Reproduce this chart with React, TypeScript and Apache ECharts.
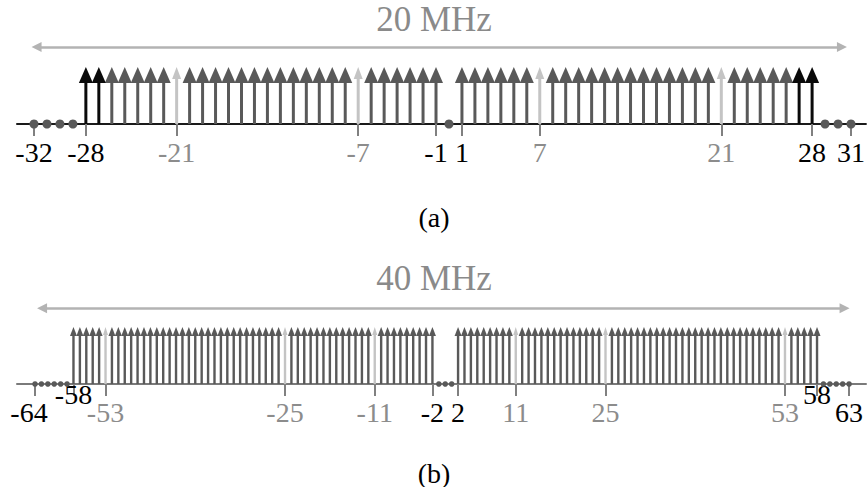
import React, { useEffect, useRef } from 'react';
import * as echarts from 'echarts';

// ---------- data: panel (a) 20 MHz ----------
const NULL_A = [-32, -31, -30, -29, 0, 29, 30, 31];
const ACTIVE_A = [
  -28, -27, -26, -25, -24, -23, -22, -21, -20, -19, -18, -17, -16, -15,
  -14, -13, -12, -11, -10, -9, -8, -7, -6, -5, -4, -3, -2, -1,
  1, 2, 3, 4, 5, 6, 7, 8, 9, 10, 11, 12, 13, 14,
  15, 16, 17, 18, 19, 20, 21, 22, 23, 24, 25, 26, 27, 28,
];
const PILOTS_A = [-21, -7, 7, 21];
const EDGE_A = [-28, -27, 27, 28];
const TICKS_A = [-32, -28, -21, -7, -1, 1, 7, 21, 28, 31];
const GRAY_TICKS_A = [-21, -7, 7, 21];
const TITLE_A = '20 MHz';
const SPAN_A = [-31.8, 30.3];
const CAPTION_A = '(a)';

// ---------- data: panel (b) 40 MHz ----------
const NULL_B = [-64, -63, -62, -61, -60, -59, -1, 0, 1, 59, 60, 61, 62, 63];
const ACTIVE_B = [
  -58, -57, -56, -55, -54, -53, -52, -51, -50, -49, -48, -47, -46, -45, -44,
  -43, -42, -41, -40, -39, -38, -37, -36, -35, -34, -33, -32, -31, -30, -29,
  -28, -27, -26, -25, -24, -23, -22, -21, -20, -19, -18, -17, -16, -15, -14,
  -13, -12, -11, -10, -9, -8, -7, -6, -5, -4, -3, -2,
  2, 3, 4, 5, 6, 7, 8, 9, 10, 11, 12, 13, 14, 15, 16,
  17, 18, 19, 20, 21, 22, 23, 24, 25, 26, 27, 28, 29, 30, 31,
  32, 33, 34, 35, 36, 37, 38, 39, 40, 41, 42, 43, 44, 45, 46,
  47, 48, 49, 50, 51, 52, 53, 54, 55, 56, 57, 58,
];
const PILOTS_B = [-53, -25, -11, 11, 25, 53];
const EDGE_B: number[] = [];
const TICKS_B = [-64, -58, -53, -25, -11, -2, 2, 11, 25, 53, 58, 63];
const GRAY_TICKS_B = [-53, -25, -11, 11, 25, 53];
const RAISED_TICKS_B = [-58, 58];
const TITLE_B = '40 MHz';
const SPAN_B = [-62.9, 62.3];
const CAPTION_B = '(b)';

const AMPLITUDE = 1;
const SPAN_LEVEL_A = 1.35;
const SPAN_LEVEL_B = 1.33;

const FONT = '"Liberation Serif", "DejaVu Serif", serif';
const DARK = '#595959';
const BLACK = '#0a0a0a';
const LIGHT = '#c4c4c4';
const LABEL_GRAY = '#8c8c8c';

type ArrowStyle = { stem: number; headW: number; headH: number; color: string };

function arrowData(active: number[], pilots: number[], edges: number[]) {
  const dark = active.filter((x) => !pilots.includes(x) && !edges.includes(x)).map((x) => [x, AMPLITUDE, 0]);
  const black = active.filter((x) => edges.includes(x)).map((x) => [x, AMPLITUDE, 1]);
  const pil = active.filter((x) => pilots.includes(x)).map((x) => [x, AMPLITUDE, 2]);
  return [...dark, ...black, ...pil];
}

function arrowSeries(gridIdx: number, data: number[][], styles: ArrowStyle[], spanX: number[], spanY: number) {
  return {
    type: 'custom',
    xAxisIndex: gridIdx,
    yAxisIndex: gridIdx,
    data,
    silent: true,
    renderItem: (params: any, api: any) => {
      const x = api.value(0);
      const y = api.value(1);
      const kind = api.value(2);
      const st = styles[kind];
      const base = api.coord([x, 0]);
      const tip = api.coord([x, y]);
      const headBase = tip[1] + st.headH;
      return {
        type: 'group',
        children: [
          {
            type: 'rect',
            shape: { x: base[0] - st.stem / 2, y: headBase - 1, width: st.stem, height: base[1] - headBase + 1 },
            style: { fill: st.color },
          },
          {
            type: 'polygon',
            shape: {
              points: [
                [tip[0], tip[1]],
                [tip[0] - st.headW / 2, headBase],
                [tip[0] + st.headW / 2, headBase],
              ],
            },
            style: { fill: st.color },
          },
        ],
      };
    },
    markLine: {
      silent: true,
      animation: false,
      symbol: ['triangle', 'triangle'],
      symbolSize: [10, 10],
      label: { show: false },
      lineStyle: { color: '#b3b3b3', width: 2.5, type: 'solid' },
      emphasis: { disabled: true },
      data: [[{ coord: [spanX[0], spanY] }, { coord: [spanX[1], spanY] }]],
    },
  };
}

function labelFormatter(grays: number[], shifted: number[] = []) {
  return (v: any) => {
    const n = Number(v);
    const key = grays.includes(n) ? 'g' : shifted.includes(n) ? 'kl' : 'k';
    return `{${key}|${n}}`;
  };
}

const RICH = (size: number) => ({
  k: { color: '#000', fontFamily: FONT, fontSize: size },
  g: { color: LABEL_GRAY, fontFamily: FONT, fontSize: size },
  kl: { color: '#000', fontFamily: FONT, fontSize: size, padding: [0, 12, 0, 0] },
});

export default function App() {
  const ref = useRef<HTMLDivElement>(null);
  useEffect(() => {
    if (!ref.current) return;
    const chart = echarts.init(ref.current, undefined, { renderer: 'svg' });
    const stylesA: ArrowStyle[] = [
      { stem: 3, headW: 14, headH: 16, color: DARK },
      { stem: 3, headW: 14, headH: 16, color: BLACK },
      { stem: 3, headW: 9, headH: 12, color: LIGHT },
    ];
    const stylesB: ArrowStyle[] = [
      { stem: 2.4, headW: 7, headH: 9, color: DARK },
      { stem: 2.4, headW: 7, headH: 9, color: BLACK },
      { stem: 2.4, headW: 5, headH: 8, color: LIGHT },
    ];
    const titleStyle = { color: '#8a8a8a', fontFamily: FONT, fontSize: 35, fontWeight: 'normal' as const };
    const capStyle = { color: '#000', fontFamily: FONT, fontSize: 28, fontWeight: 'normal' as const };
    chart.setOption({
      animation: false,
      backgroundColor: '#fff',
      title: [
        { text: TITLE_A, left: 'center', top: 2, padding: 0, textStyle: titleStyle },
        { text: CAPTION_A, left: 'center', top: 203, padding: 0, textStyle: capStyle },
        { text: TITLE_B, left: 'center', top: 261, padding: 0, textStyle: titleStyle },
        { text: CAPTION_B, left: 'center', top: 459, padding: 0, textStyle: capStyle },
      ],
      grid: [
        { left: 17, right: 2, top: 38.5, bottom: 363 },
        { left: 17, right: 2, top: 298.5, bottom: 103 },
      ],
      xAxis: [
        {
          type: 'value', gridIndex: 0, min: -33.31, max: 32.15,
          splitLine: { show: false },
          axisLine: { show: true, onZero: false, lineStyle: { color: '#1a1a1a', width: 2 } },
          axisTick: { show: true, customValues: TICKS_A, length: 12, lineStyle: { color: '#808080', width: 2 } },
          axisLabel: {
            show: true, customValues: TICKS_A, margin: 14,
            fontFamily: FONT, fontSize: 28,
            formatter: labelFormatter(GRAY_TICKS_A), rich: RICH(28),
          },
        },
        {
          type: 'value', gridIndex: 1, min: -66.81, max: 65.64,
          splitLine: { show: false },
          axisLine: { show: true, onZero: false, lineStyle: { color: '#7a7a7a', width: 2 } },
          axisTick: { show: true, customValues: TICKS_B, length: 12, lineStyle: { color: '#808080', width: 2 } },
          axisLabel: {
            show: true, customValues: TICKS_B.filter((t) => !RAISED_TICKS_B.includes(t)), margin: 14,
            fontFamily: FONT, fontSize: 28,
            formatter: labelFormatter(GRAY_TICKS_B, [-64]), rich: RICH(28),
          },
        },
        {
          type: 'value', gridIndex: 1, min: -66.81, max: 65.64, position: 'bottom',
          splitLine: { show: false },
          axisLine: { show: false },
          axisTick: { show: false },
          axisLabel: {
            show: true, customValues: RAISED_TICKS_B, margin: -4,
            fontFamily: FONT, fontSize: 28,
            formatter: labelFormatter(GRAY_TICKS_B), rich: RICH(28),
          },
        },
      ],
      yAxis: [
        { type: 'value', gridIndex: 0, min: 0, max: 1.5, show: false },
        { type: 'value', gridIndex: 1, min: 0, max: 1.5, show: false },
      ],
      series: [
        arrowSeries(0, arrowData(ACTIVE_A, PILOTS_A, EDGE_A), stylesA, SPAN_A, SPAN_LEVEL_A),
        {
          type: 'scatter', xAxisIndex: 0, yAxisIndex: 0, silent: true,
          symbol: 'circle', symbolSize: 9, itemStyle: { color: DARK, opacity: 1 },
          data: NULL_A.map((x) => [x, 0]), clip: false,
        },
        arrowSeries(1, arrowData(ACTIVE_B, PILOTS_B, EDGE_B), stylesB, SPAN_B, SPAN_LEVEL_B),
        {
          type: 'scatter', xAxisIndex: 1, yAxisIndex: 1, silent: true,
          symbol: 'circle', symbolSize: 5.5, itemStyle: { color: DARK, opacity: 1 },
          data: NULL_B.map((x) => [x, 0]), clip: false,
        },
      ],
    });
    return () => chart.dispose();
  }, []);
  return (
    <div
      ref={ref}
      style={{ position: 'fixed', left: 0, top: 0, width: 868, height: 487, background: '#fff' }}
    />
  );
}
